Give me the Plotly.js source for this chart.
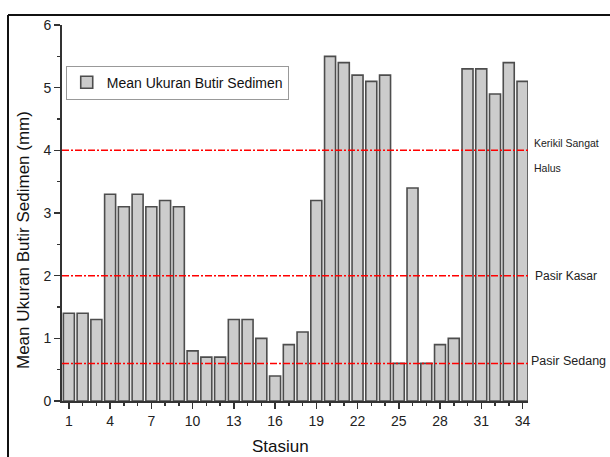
<!DOCTYPE html>
<html>
<head>
<meta charset="utf-8">
<script src="https://cdn.plot.ly/plotly-3.0.1.min.js"></script>
<style>html,body{margin:0;padding:0;background:#fff;}#chart{width:610px;height:457px;}</style>
</head>
<body>
<div id="chart"></div>
<script>
const stations = [1,2,3,4,5,6,7,8,9,10,11,12,13,14,15,16,17,18,19,20,21,22,23,24,25,26,27,28,29,30,31,32,33,34];
const meanSize = [1.4,1.4,1.3,3.3,3.1,3.3,3.1,3.2,3.1,0.8,0.7,0.7,1.3,1.3,1.0,0.4,0.9,1.1,3.2,5.5,5.4,5.2,5.1,5.2,0.6,3.4,0.6,0.9,1.0,5.3,5.3,4.9,5.4,5.1];
const classLevels = [4, 2, 0.6];
const classNames = ["Kerikil Sangat", "Halus", "Pasir Kasar", "Pasir Sedang"];
const seriesName = "Mean Ukuran Butir Sedimen";
const xTitle = "Stasiun";
const yTitle = "Mean Ukuran Butir Sedimen (mm)";

const font = "Liberation Sans, Arial, sans-serif";
const xMin = 0.5, xMax = 34.4;

const traces = [{
  type: 'bar', x: stations, y: meanSize, name: seriesName,
  width: 0.8,
  marker: {color: '#cccccc', line: {color: '#4d4d4d', width: 1.6}}
}];
classLevels.forEach(v => {
  traces.push({
    type: 'scatter', mode: 'lines', x: [xMin, xMax], y: [v, v], showlegend: false,
    line: {color: '#ff0000', width: 1.5, dash: '7px,2px,2px,2px'}, hoverinfo: 'skip'
  });
});

const annotations = [
  {x: 1.009, y: 4, xref: 'paper', yref: 'y', text: classNames[0], showarrow: false, xanchor: 'left', yanchor: 'middle', font: {family: font, size: 10.5, color: '#222'}, yshift: 7},
  {x: 1.009, y: 4, xref: 'paper', yref: 'y', text: classNames[1], showarrow: false, xanchor: 'left', yanchor: 'middle', font: {family: font, size: 10.5, color: '#222'}, yshift: -18},
  {x: 1.01, y: 2, xref: 'paper', yref: 'y', text: classNames[2], showarrow: false, xanchor: 'left', yanchor: 'middle', font: {family: font, size: 12, color: '#222'}},
  {x: 1.002, y: 0.6, xref: 'paper', yref: 'y', text: classNames[3], showarrow: false, xanchor: 'left', yanchor: 'middle', font: {family: font, size: 12.5, color: '#222'}, yshift: 2},
  {x: (280-62)/466, y: (401-446)/376, xref: 'paper', yref: 'paper', text: xTitle, showarrow: false, xanchor: 'center', yanchor: 'middle', font: {family: font, size: 17, color: '#111'}},
  {x: (23-62)/466, y: (401-240)/376, xref: 'paper', yref: 'paper', text: yTitle, textangle: -90, showarrow: false, xanchor: 'center', yanchor: 'middle', font: {family: font, size: 17, color: '#111'}}
];

const layout = {
  width: 610, height: 457,
  margin: {l: 62, r: 82, t: 25, b: 56},
  paper_bgcolor: '#fff', plot_bgcolor: '#fff',
  font: {family: font, size: 13, color: '#222'},
  showlegend: true,
  legend: {x: 0.008, y: 0.892, xanchor: 'left', yanchor: 'top', bordercolor: '#999', borderwidth: 1, bgcolor: '#fff', font: {family: font, size: 14, color: '#111'}, itemwidth: 30},
  xaxis: {
    range: [xMin, xMax], tick0: 1, dtick: 3, ticks: 'outside', ticklen: 6, tickwidth: 1.5, tickcolor: '#333',
    showline: true, linecolor: '#333', linewidth: 2, showgrid: false, zeroline: false,
    minor: {dtick: 1, tick0: 1, ticks: 'outside', ticklen: 3, tickcolor: '#333', tickwidth: 1.5},
    tickfont: {family: font, size: 14, color: '#222'}
  },
  yaxis: {
    range: [0, 6], dtick: 1, ticks: 'outside', ticklen: 6, tickwidth: 1.5, tickcolor: '#333',
    showline: true, linecolor: '#333', linewidth: 2, showgrid: false, zeroline: false,
    minor: {dtick: 0.5, ticks: 'outside', ticklen: 3, tickcolor: '#333', tickwidth: 1.5},
    tickfont: {family: font, size: 14, color: '#222'}
  },
  annotations: annotations,
  shapes: [
    {type: 'line', xref: 'paper', yref: 'paper', x0: (8-62)/466, x1: 1.2, y0: (401-15)/376, y1: (401-15)/376, line: {color: '#111', width: 2}},
    {type: 'line', xref: 'paper', yref: 'paper', x0: (8-62)/466, x1: (8-62)/466, y0: (401-15)/376, y1: -0.3, line: {color: '#111', width: 2}}
  ]
};

Plotly.newPlot('chart', traces, layout, {displayModeBar: false, staticPlot: true});
</script>
</body>
</html>
